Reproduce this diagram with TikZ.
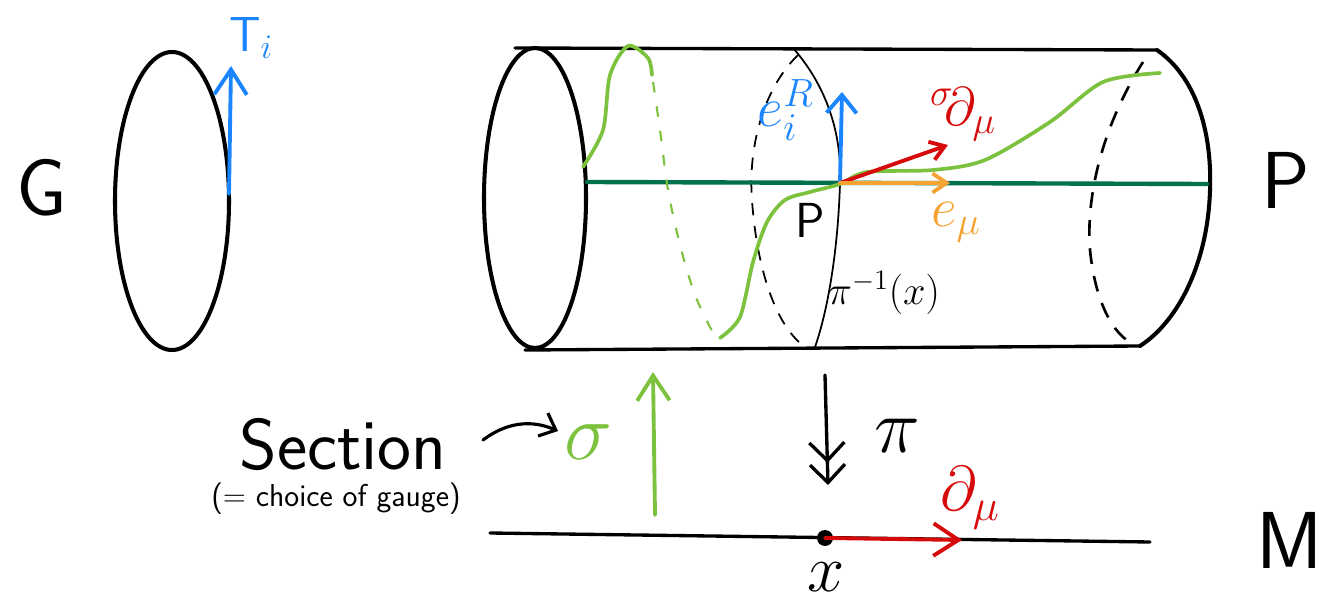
\RequirePackage{fix-cm}
\documentclass[tikz,border=0pt]{standalone}
\usepackage{amsmath}
\usetikzlibrary{arrows.meta}
\definecolor{fibreblue}{HTML}{1A85FF}
\definecolor{pushred}{HTML}{D60A0A}
\definecolor{liftorange}{HTML}{F4A232}
\definecolor{sectiongreen}{HTML}{7DC23F}
\definecolor{horizgreen}{HTML}{00704F}
\begin{document}
\begin{tikzpicture}[
    x=.02cm,y=-.02cm,font=\sffamily,
    outline/.style={black,line width=2.3pt,line cap=round},
    rim/.style={black,line width=1.9pt,line cap=round},
    fibre/.style={black,line width=1pt},
    hidden fibre/.style={black,line width=1pt,dash pattern=on 7pt off 6pt},
    hidden rim/.style={black,line width=1.5pt,dash pattern=on 9pt off 7pt},
    section/.style={sectiongreen,line width=2.1pt,line cap=round},
    hidden section/.style={sectiongreen,line width=1.2pt,dash pattern=on 6pt off 8pt},
    horizontal/.style={horizgreen,line width=2.5pt,line cap=round},
    vec/.style={line width=2.2pt,line cap=round},
    big tip/.style={-{Straight Barb[length=5mm,width=6.5mm]}},
    mid tip/.style={-{Straight Barb[length=3.6mm,width=6mm]}},
    small tip/.style={-{Straight Barb[length=2.8mm,width=3.8mm]}},
    lbl/.style={inner sep=0pt}
  ]
    \useasboundingbox (0,0) rectangle (1325,604);

    % The structure group G on its own, with a Lie algebra generator.
    \coordinate (Gc) at (172,201);
    \draw[outline] (Gc) ellipse [x radius=57,y radius=149];
    \coordinate (T0) at (229,194);
    \coordinate (T1) at (231,66);
    \draw[vec,fibreblue,big tip] (T0) -- (T1);
    \node[lbl,fibreblue,font=\fontsize{28}{30}\selectfont] (Tlab) at (251,38) {$\mathsf{T}_i$};
    \node[lbl,font=\fontsize{46}{48}\selectfont\sffamily] (Glab) at (42,188) {G};

    % Principal bundle P drawn as a cylinder.
    \coordinate (Lc) at (535,198);
    \coordinate (TL) at (515,48);
    \coordinate (TR) at (1157,50);
    \coordinate (BL) at (525,350);
    \coordinate (BR) at (1140,346);
    \draw[outline] (Lc) ellipse [x radius=51,y radius=150];
    \draw[rim] (TL) -- (TR);
    \draw[rim] (BL) -- (BR);
    \draw[outline] (TR) .. controls (1200,80) and (1212,140) .. (1210,190)
                        .. controls (1208,260) and (1180,320) .. (BR);
    \draw[hidden rim] (1143,62) .. controls (1100,130) and (1086,200) .. (1090,250)
                      .. controls (1095,300) and (1112,335) .. (1135,345);

    % The fibre over x, front half solid, back half dashed.
    \coordinate (p) at (840,183);
    \draw[fibre] (793,48) .. controls (830,90) and (842,140) .. (p)
                 .. controls (838,250) and (828,310) .. (815,347);
    \draw[hidden fibre] (798,55) .. controls (762,90) and (748,150) .. (752,200)
                        .. controls (756,260) and (772,318) .. (800,343);

    % Horizontal line through p.
    \coordinate (H0) at (587,182);
    \coordinate (H1) at (1207,184);
    \draw[horizontal] (H0) -- (H1);

    % The section sigma, winding once round the cylinder.
    \draw[section] plot[smooth] coordinates {(583,167) (603,130) (610,75) (628,46) (648,58) (652,75)};
    \draw[hidden section] plot[smooth] coordinates {(653,82) (660,130) (668,190) (680,245) (695,295) (713,333)};
    \draw[section] plot[smooth] coordinates {(720,338) (740,317) (753,262) (767,222) (785,200)
      (810,192) (840,184) (867,172) (933,170) (985,160) (1050,122) (1103,82) (1160,73)};

    % Vectors at p.
    \coordinate (eR) at (842,92);
    \coordinate (sd) at (948,145);
    \coordinate (emu) at (950,183);
    \draw[vec,fibreblue,mid tip] (p) -- (eR);
    \draw[vec,pushred,small tip] (p) -- (sd);
    \draw[vec,liftorange,small tip] (p) -- (emu);

    \node[lbl,fibreblue,font=\fontsize{32}{34}\selectfont] (eRlab) at (786,110) {$e_i^R$};
    \node[lbl,pushred,font=\fontsize{31}{33}\selectfont] (sdlab) at (963,114) {${}^{\sigma}\!\partial_\mu$};
    \node[lbl,liftorange,font=\fontsize{32}{34}\selectfont] (emulab) at (956,222) {$e_\mu$};
    \node[lbl,font=\fontsize{28}{30}\selectfont\sffamily] (plab) at (810,220) {P};
    \node[lbl,font=\fontsize{23}{25}\selectfont] (filab) at (884,293) {$\pi^{-1}(x)$};
    \node[lbl,font=\fontsize{46}{48}\selectfont\sffamily] (Plab) at (1286,180) {P};

    % Projection down to the base.
    \coordinate (pi0) at (825,375);
    \coordinate (pi1) at (828,485);
    \draw[vec,black,line width=1.9pt,
      -{Straight Barb[length=3.6mm,width=7mm] Straight Barb[length=3.6mm,width=7mm]}] (pi0) -- (pi1);
    \node[lbl,font=\fontsize{44}{46}\selectfont] (pilab) at (897,436) {$\pi$};

    % Base manifold M.
    \coordinate (M0) at (490,533);
    \coordinate (M1) at (1150,542);
    \coordinate (x) at (825,538);
    \coordinate (dmu) at (962,540);
    \draw[rim] (M0) -- (M1);
    \fill (x) circle [radius=8];
    \draw[vec,pushred,big tip] (x) -- (dmu);
    \node[lbl,pushred,font=\fontsize{36}{38}\selectfont] (dmulab) at (970,498) {$\partial_\mu$};
    \node[lbl,font=\fontsize{38}{40}\selectfont] (xlab) at (826,577) {$x$};
    \node[lbl,font=\fontsize{46}{48}\selectfont\sffamily] (Mlab) at (1290,540) {M};

    % The section goes back up from M to P.
    \coordinate (s0) at (655,515);
    \coordinate (s1) at (653,372);
    \draw[vec,sectiongreen,big tip] (s0) -- (s1);
    \node[lbl,sectiongreen,font=\fontsize{46}{48}\selectfont] (siglab) at (588,442) {$\sigma$};
    \node[lbl,anchor=base,font=\fontsize{41}{43}\selectfont\sffamily] (seclab) at (343,469) {Section};
    \node[lbl,anchor=base,font=\fontsize{18}{20}\selectfont\sffamily] (gaugelab) at (336,506) {(= choice of gauge)};
    \coordinate (c0) at (483,440);
    \coordinate (c1) at (558,431);
    \draw[line width=1.8pt,line cap=round,-{Straight Barb[length=2.8mm,width=5mm]}] (c0) to[bend left=30] (c1);
\end{tikzpicture}
\end{document}
